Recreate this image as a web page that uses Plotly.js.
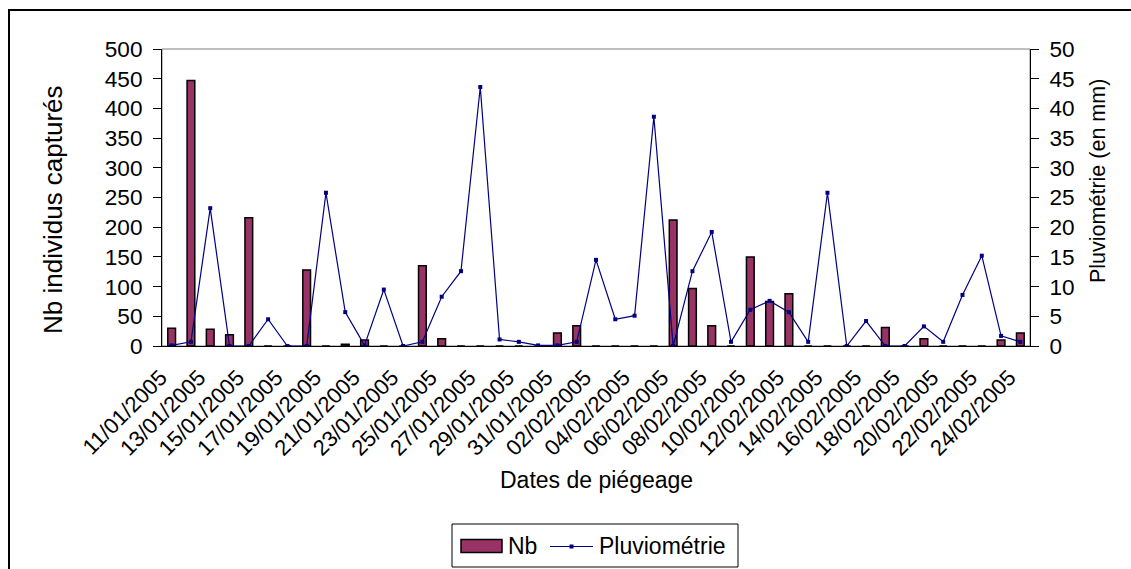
<!DOCTYPE html>
<html><head><meta charset="utf-8">
<script src="https://cdn.plot.ly/plotly-3.0.1.min.js"></script>
<style>html,body{margin:0;padding:0;background:#fff}#chart{width:1131px;height:569px}</style>
</head><body><div id="chart"></div>
<script>
const dates = [
  "11/01/2005","12/01/2005","13/01/2005","14/01/2005","15/01/2005","16/01/2005","17/01/2005",
  "18/01/2005","19/01/2005","20/01/2005","21/01/2005","22/01/2005","23/01/2005","24/01/2005",
  "25/01/2005","26/01/2005","27/01/2005","28/01/2005","29/01/2005","30/01/2005","31/01/2005",
  "01/02/2005","02/02/2005","03/02/2005","04/02/2005","05/02/2005","06/02/2005","07/02/2005",
  "08/02/2005","09/02/2005","10/02/2005","11/02/2005","12/02/2005","13/02/2005","14/02/2005",
  "15/02/2005","16/02/2005","17/02/2005","18/02/2005","19/02/2005","20/02/2005","21/02/2005",
  "22/02/2005","23/02/2005","24/02/2005"
];
const nbIndividus = [
  30, 447, 28, 19, 216, 0, 0, 128, 0, 3,
  10, 0, 0, 135, 12, 0, 0, 0, 0, 0,
  22, 34, 0, 0, 0, 0, 212, 97, 34, 0,
  150, 75, 88, 0, 0, 0, 0, 31, 0, 12,
  0, 0, 0, 10, 22
];
const pluviometrie = [
  0.1, 0.7, 23.2, 0, 0, 4.5, 0, 0, 25.8, 5.7,
  0.1, 9.5, 0, 0.7, 8.3, 12.6, 43.6, 1.1, 0.7, 0.1,
  0.1, 0.7, 14.5, 4.5, 5.1, 38.6, 0, 12.6, 19.2, 0.7,
  6.1, 7.6, 5.7, 0.7, 25.8, 0, 4.2, 0, 0, 3.3,
  0.7, 8.6, 15.2, 1.7, 0.7
];
const labelDates = dates.filter((d, i) => i % 2 === 0);
const leftTicks = [0, 50, 100, 150, 200, 250, 300, 350, 400, 450, 500];
const rightTicks = [0, 5, 10, 15, 20, 25, 30, 35, 40, 45, 50];
const seriesNames = ["Nb", "Pluviométrie"];
const titles = {x: "Dates de piégeage", yLeft: "Nb individus capturés", yRight: "Pluviométrie (en mm)"};

const nCat = dates.length;
const boundaries = Array.from({length: nCat + 1}, (_, i) => i - 0.5);
const FONT = "Liberation Sans, Arial, sans-serif";
const BAR_COLOR = "#993366";
const LINE_COLOR = "#000080";

// plot-area geometry (pixels) used to place decorations in paper coords
const M = {l: 162, r: 101, t: 49, b: 223};
const PW = 1131 - M.l - M.r, PH = 569 - M.t - M.b;
const px = v => (v - M.l) / PW;
const py = v => (569 - M.b - v) / PH;

const traces = [
  {
    type: "bar", name: seriesNames[0], x: dates, y: nbIndividus, xaxis: "x", yaxis: "y",
    marker: {color: BAR_COLOR, line: {color: "#000000", width: 1.5}},
    hoverinfo: "skip", showlegend: false
  },
  {
    type: "scatter", mode: "lines+markers", name: seriesNames[1], x: dates, y: pluviometrie,
    xaxis: "x", yaxis: "y2",
    line: {color: LINE_COLOR, width: 1.2},
    marker: {color: LINE_COLOR, symbol: "square", size: 4},
    hoverinfo: "skip", showlegend: false
  }
];

const tickAxisBase = {
  type: "linear", range: [-0.5, nCat - 0.5], tickmode: "array", tickvals: boundaries,
  showticklabels: false, showgrid: false, zeroline: false, showline: false,
  tickcolor: "#000", tickwidth: 1, fixedrange: true
};

const legendY = 546;
const shapes = [
  {type: "rect", xref: "paper", yref: "paper", x0: 0, x1: 1, y0: 0, y1: 1,
   line: {color: "#808080", width: 1}, fillcolor: "rgba(0,0,0,0)", layer: "below"},
  {type: "rect", xref: "paper", yref: "paper",
   x0: px(9), x1: 2, y0: -2, y1: py(10),
   line: {color: "#000", width: 2}, fillcolor: "rgba(0,0,0,0)", layer: "below"},
  // legend frame
  {type: "rect", xref: "paper", yref: "paper", x0: px(452), x1: px(738), y0: py(567), y1: py(524),
   line: {color: "#000", width: 1}, fillcolor: "#fff", layer: "above"},
  // bar swatch
  {type: "rect", xref: "paper", yref: "paper", x0: px(461), x1: px(502), y0: py(552.5), y1: py(539.5),
   line: {color: "#000", width: 1.5}, fillcolor: BAR_COLOR, layer: "above"},
  // line swatch
  {type: "line", xref: "paper", yref: "paper", x0: px(550), x1: px(593), y0: py(legendY + 0.5), y1: py(legendY + 0.5),
   line: {color: LINE_COLOR, width: 1.2}, layer: "above"},
  {type: "rect", xref: "paper", yref: "paper", x0: px(569.5), x1: px(573.5), y0: py(legendY + 2.5), y1: py(legendY - 1.5),
   line: {width: 0}, fillcolor: LINE_COLOR, layer: "above"}
];

const annotations = [
  {xref: "paper", yref: "paper", x: px(506), y: py(legendY), xanchor: "left", yanchor: "middle",
   text: seriesNames[0], showarrow: false, font: {family: FONT, size: 23, color: "#000"}},
  {xref: "paper", yref: "paper", x: px(597), y: py(legendY), xanchor: "left", yanchor: "middle",
   text: seriesNames[1], showarrow: false, font: {family: FONT, size: 23, color: "#000"}},
  {xref: "paper", yref: "paper", x: px(596), y: py(480), xanchor: "center", yanchor: "middle",
   text: titles.x, showarrow: false, font: {family: FONT, size: 23, color: "#000"}},
  {xref: "paper", yref: "paper", x: px(53), y: py(209), xanchor: "center", yanchor: "middle", textangle: -90,
   text: titles.yLeft, showarrow: false, font: {family: FONT, size: 26, color: "#000"}},
  {xref: "paper", yref: "paper", x: px(1098), y: py(181), xanchor: "center", yanchor: "middle", textangle: -90,
   text: titles.yRight, showarrow: false, font: {family: FONT, size: 21.5, color: "#000"}}
];

const layout = {
  width: 1131, height: 569,
  margin: {l: M.l, r: M.r, t: M.t, b: M.b, pad: 0, autoexpand: false},
  paper_bgcolor: "#fff", plot_bgcolor: "#fff",
  font: {family: FONT, color: "#000", size: 21},
  showlegend: false,
  bargap: 0.6,
  xaxis: {
    type: "category", categoryorder: "array", categoryarray: dates,
    range: [-0.5, nCat - 0.5], automargin: false,
    tickmode: "array", tickvals: labelDates, ticktext: labelDates,
    tickangle: -45, ticks: "outside", ticklen: 6, tickcolor: "rgba(0,0,0,0)",
    ticklabelstandoff: 3, ticklabelshift: -11,
    tickfont: {family: FONT, size: 22, color: "#000"},
    showline: true, linecolor: "#000", linewidth: 1,
    showgrid: false, zeroline: false
  },
  xaxis2: Object.assign({}, tickAxisBase, {overlaying: "x", anchor: "y", side: "bottom", ticks: "outside", ticklen: 6}),
  xaxis3: Object.assign({}, tickAxisBase, {overlaying: "x", anchor: "y", side: "bottom", ticks: "inside", ticklen: 6}),
  yaxis: {
    range: [0, 500], tickmode: "array", tickvals: leftTicks, automargin: false,
    ticks: "outside", ticklen: 8, tickcolor: "#000", tickwidth: 1,
    ticklabelstandoff: 6,
    tickfont: {family: FONT, size: 22.6, color: "#000"},
    showline: true, linecolor: "#000", linewidth: 1,
    showgrid: false, zeroline: false
  },
  yaxis2: {
    overlaying: "y", side: "right", anchor: "x", automargin: false,
    range: [0, 50], tickmode: "array", tickvals: rightTicks,
    ticks: "outside", ticklen: 8, tickcolor: "#000", tickwidth: 1,
    ticklabelstandoff: 6,
    tickfont: {family: FONT, size: 22.6, color: "#000"},
    showline: true, linecolor: "#000", linewidth: 1,
    showgrid: false, zeroline: false
  },
  yaxis3: {
    overlaying: "y", side: "left", anchor: "x",
    range: [0, 500], tickmode: "array", tickvals: leftTicks,
    ticks: "inside", ticklen: 7, tickcolor: "#000", tickwidth: 1,
    showticklabels: false, showline: false, showgrid: false, zeroline: false
  },
  yaxis4: {
    overlaying: "y", side: "right", anchor: "x",
    range: [0, 50], tickmode: "array", tickvals: rightTicks,
    ticks: "inside", ticklen: 7, tickcolor: "#000", tickwidth: 1,
    showticklabels: false, showline: false, showgrid: false, zeroline: false
  },
  shapes: shapes,
  annotations: annotations
};

Plotly.newPlot("chart", traces, layout, {displayModeBar: false, staticPlot: true});
</script>
</body></html>
